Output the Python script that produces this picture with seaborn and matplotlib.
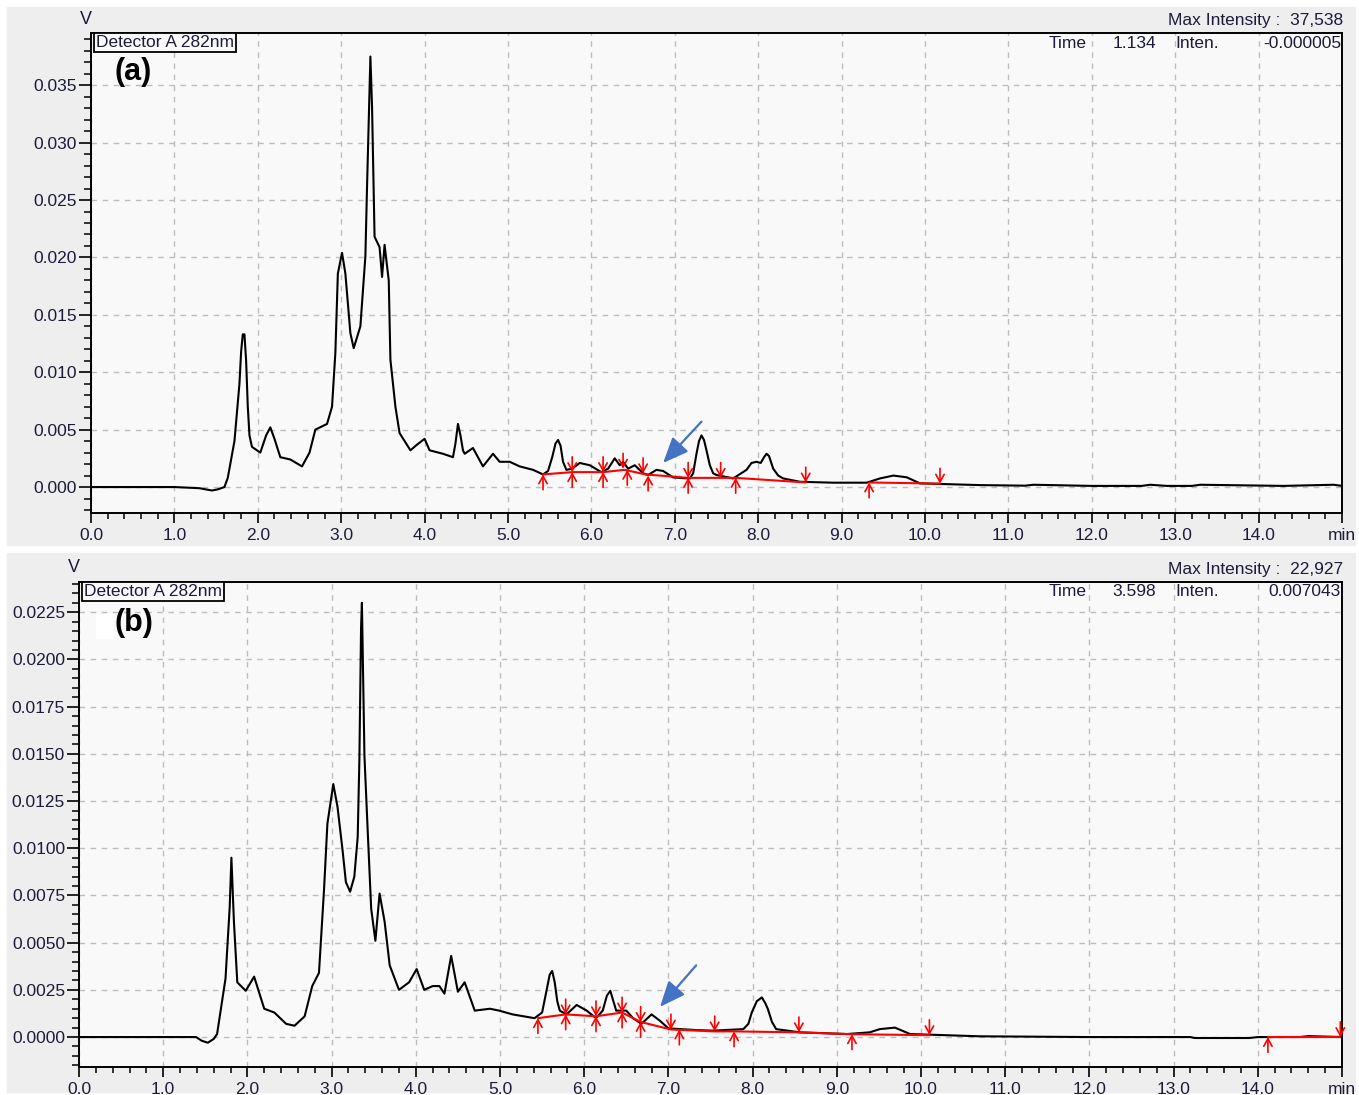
import numpy as np
import pandas as pd
import matplotlib
matplotlib.use("Agg")
import matplotlib.pyplot as plt
from matplotlib.patches import Rectangle
import seaborn as sns

# ---------------- data ----------------
time_a = [0.0, 0.5, 1.0, 1.3, 1.45, 1.52, 1.60, 1.64, 1.72, 1.78,
          1.80, 1.82, 1.84, 1.86, 1.88, 1.90, 1.93, 2.03, 2.10, 2.15,
          2.20, 2.27, 2.39, 2.53, 2.62, 2.69, 2.83, 2.89, 2.93, 2.96,
          3.01, 3.05, 3.11, 3.15, 3.23, 3.29, 3.31, 3.35, 3.37, 3.40,
          3.46, 3.49, 3.52, 3.57, 3.59, 3.65, 3.70, 3.83, 3.91, 4.00,
          4.06, 4.22, 4.34, 4.37, 4.40, 4.43, 4.46, 4.48, 4.58, 4.70,
          4.82, 4.90, 5.02, 5.14, 5.30, 5.42, 5.48, 5.53, 5.57, 5.60,
          5.63, 5.66, 5.70, 5.77, 5.86, 5.98, 6.12, 6.20, 6.28, 6.34,
          6.38, 6.44, 6.52, 6.62, 6.68, 6.78, 6.86, 6.98, 7.10, 7.18,
          7.22, 7.26, 7.29, 7.32, 7.35, 7.38, 7.42, 7.46, 7.50, 7.70,
          7.86, 7.92, 7.98, 8.03, 8.07, 8.10, 8.13, 8.18, 8.24, 8.30,
          8.50, 8.90, 9.30, 9.46, 9.62, 9.78, 9.94, 10.66, 11.2, 11.3,
          12.0, 12.6, 12.7, 12.9, 13.2, 13.3, 14.3, 14.9, 15.0]
signal_a = [0.0, 0.0, 0.0, -0.0001, -0.0003, -0.0002, 0.0, 0.0008, 0.004, 0.009,
            0.0118, 0.0133, 0.0133, 0.011, 0.007, 0.0045, 0.0035, 0.003, 0.0045, 0.0052,
            0.0042, 0.0026, 0.0024, 0.0018, 0.003, 0.005, 0.0055, 0.007, 0.0117, 0.0186,
            0.0204, 0.0186, 0.0134, 0.0121, 0.014, 0.0201, 0.0262, 0.0375, 0.0331, 0.0218,
            0.0209, 0.0183, 0.0211, 0.018, 0.0111, 0.007, 0.0047, 0.0032, 0.0037, 0.0042,
            0.0032, 0.0029, 0.0026, 0.0038, 0.0055, 0.0045, 0.0032, 0.0029, 0.0034, 0.0018,
            0.0029, 0.0022, 0.0022, 0.0018, 0.0015, 0.0011, 0.0014, 0.0026, 0.0038, 0.0041,
            0.0036, 0.0022, 0.0015, 0.0016, 0.0021, 0.0019, 0.0013, 0.0016, 0.0025, 0.0019,
            0.0022, 0.0016, 0.0019, 0.0012, 0.00105, 0.0015, 0.0014, 0.00084, 0.00078, 0.00075,
            0.0012, 0.0029, 0.004, 0.0045, 0.0041, 0.0032, 0.0019, 0.0012, 0.00105, 0.00075,
            0.0015, 0.0021, 0.0022, 0.0021, 0.0026, 0.0029, 0.0027, 0.0016, 0.001, 0.00075,
            0.00046, 0.00038, 0.00038, 0.00075, 0.001, 0.00085, 0.00032, 0.00017, 0.00012, 0.0002,
            0.0001, 0.0001, 0.0002, 0.0001, 0.0001, 0.0002, 0.0001, 0.0002, 0.0001]

time_b = [0.0, 0.5, 1.0, 1.39, 1.46, 1.53, 1.60, 1.64, 1.74, 1.79,
          1.81, 1.84, 1.88, 1.98, 2.08, 2.20, 2.32, 2.46, 2.56, 2.68,
          2.77, 2.85, 2.91, 2.95, 3.02, 3.07, 3.13, 3.17, 3.22, 3.27,
          3.31, 3.33, 3.35, 3.36, 3.39, 3.43, 3.47, 3.52, 3.57, 3.63,
          3.69, 3.80, 3.92, 4.01, 4.10, 4.20, 4.28, 4.34, 4.42, 4.50,
          4.58, 4.70, 4.88, 4.99, 5.15, 5.41, 5.50, 5.55, 5.59, 5.62,
          5.65, 5.68, 5.71, 5.79, 5.91, 6.03, 6.14, 6.22, 6.27, 6.31,
          6.34, 6.38, 6.50, 6.58, 6.68, 6.80, 6.90, 7.00, 7.33, 7.53,
          7.89, 7.95, 7.99, 8.05, 8.11, 8.15, 8.18, 8.23, 8.28, 8.56,
          9.12, 9.39, 9.51, 9.69, 9.87, 10.70, 12.0, 13.2, 13.25, 13.9,
          14.0, 14.5, 14.6, 15.0]
signal_b = [0.0, 0.0, 0.0, 0.0, -0.0002, -0.0003, -0.0001, 0.00016, 0.0031, 0.0069,
            0.0095, 0.0061, 0.0029, 0.00245, 0.0032, 0.0015, 0.0013, 0.0007, 0.0006, 0.0011,
            0.0027, 0.0034, 0.0078, 0.0113, 0.0134, 0.0122, 0.0099, 0.0082, 0.0077, 0.0085,
            0.0106, 0.0147, 0.0217, 0.023, 0.0149, 0.0108, 0.0068, 0.0051, 0.0076, 0.0061,
            0.0038, 0.0025, 0.0029, 0.0036, 0.0025, 0.0027, 0.0027, 0.0023, 0.0043, 0.0024,
            0.0029, 0.0014, 0.0015, 0.0014, 0.0012, 0.001, 0.0013, 0.0024, 0.0033, 0.0035,
            0.0029, 0.0019, 0.0014, 0.0012, 0.0017, 0.0014, 0.001, 0.0014, 0.0022, 0.00245,
            0.002, 0.0014, 0.0014, 0.001, 0.0007, 0.0012, 0.00086, 0.00046, 0.00037, 0.00034,
            0.00042, 0.0007, 0.0013, 0.0019, 0.0021, 0.0018, 0.0015, 0.0008, 0.00042, 0.00025,
            0.00016, 0.00025, 0.00042, 0.0005, 0.00016, 0.00004, 0.0, 0.0, -0.00005, -0.00005,
            0.0, 0.0, 0.00005, 0.0]

# peak markers: time, baseline level
a_up_t = [5.42, 5.77, 6.14, 6.43, 6.68, 7.16, 7.73, 9.33]
a_up_y = [0.0011, 0.0013, 0.0013, 0.0015, 0.0010, 0.0008, 0.0008, 0.0004]
a_dn_t = [5.77, 6.14, 6.38, 6.62, 7.16, 7.55, 8.57, 10.18]
a_dn_y = [0.0013, 0.0013, 0.0016, 0.0012, 0.0008, 0.0008, 0.0004, 0.0003]
a_base_t = [[5.42, 5.77, 6.14, 6.40, 6.65, 7.16, 7.55, 7.73, 8.57], [9.33, 10.18]]
a_base_y = [[0.0011, 0.0013, 0.0013, 0.0015, 0.0011, 0.0008, 0.0008, 0.0008, 0.0004], [0.0004, 0.0003]]

b_up_t = [5.45, 5.78, 6.14, 6.45, 6.67, 7.13, 7.78, 9.18, 14.12]
b_up_y = [0.0010, 0.0012, 0.0011, 0.0013, 0.0008, 0.0004, 0.0003, 0.00015, 0.0]
b_dn_t = [5.78, 6.14, 6.45, 6.67, 7.03, 7.55, 8.55, 10.10, 14.98]
b_dn_y = [0.0012, 0.0011, 0.0013, 0.0008, 0.0004, 0.0003, 0.00025, 0.0001, 0.0]
b_base_t = [[5.45, 5.78, 6.14, 6.45, 6.67, 7.03, 7.55, 7.78, 8.55, 9.18, 10.10], [14.12, 14.98]]
b_base_y = [[0.0010, 0.0012, 0.0011, 0.0013, 0.0008, 0.0004, 0.0003, 0.0003, 0.00025, 0.00015, 0.0001], [0.0, 0.0]]

x_ticks = [0.0, 1.0, 2.0, 3.0, 4.0, 5.0, 6.0, 7.0, 8.0, 9.0, 10.0, 11.0, 12.0, 13.0, 14.0, 15.0]
x_labels = ["0.0", "1.0", "2.0", "3.0", "4.0", "5.0", "6.0", "7.0", "8.0", "9.0", "10.0",
            "11.0", "12.0", "13.0", "14.0", "min"]
a_yticks = [0.000, 0.005, 0.010, 0.015, 0.020, 0.025, 0.030, 0.035]
a_ylabels = ["0.000", "0.005", "0.010", "0.015", "0.020", "0.025", "0.030", "0.035"]
b_yticks = [0.0, 0.0025, 0.005, 0.0075, 0.01, 0.0125, 0.015, 0.0175, 0.02, 0.0225]
b_ylabels = ["0.0000", "0.0025", "0.0050", "0.0075", "0.0100", "0.0125", "0.0150", "0.0175",
             "0.0200", "0.0225"]

panels = [
    dict(t=time_a, s=signal_a, upt=a_up_t, upy=a_up_y, dnt=a_dn_t, dny=a_dn_y, bt=a_base_t, by=a_base_y,
         yt=a_yticks, yl=a_ylabels, ylim=(-0.00226, 0.03955), ymin=0.001, tag="(a)", tagx=114,
         maxint="Max Intensity :  37,538", time="1.134", inten="-0.000005",
         arrow=((7.32, 0.0057), (6.86, 0.0021))),
    dict(t=time_b, s=signal_b, upt=b_up_t, upy=b_up_y, dnt=b_dn_t, dny=b_dn_y, bt=b_base_t, by=b_base_y,
         yt=b_yticks, yl=b_ylabels, ylim=(-0.00157, 0.02412), ymin=0.0005, tag="(b)", tagx=115,
         maxint="Max Intensity :  22,927", time="3.598", inten="0.007043",
         arrow=((7.33, 0.0038), (6.90, 0.0016))),
]

# ---------------- figure ----------------
sns.set_theme(style="white")
plt.rcParams['font.family'] = ['Liberation Sans', 'DejaVu Sans']
W, H = 1359, 1095
fig = plt.figure(figsize=(W / 100, H / 100), dpi=100, facecolor="white")

# gray panel backgrounds
for (y0, y1) in [(7, 545), (553, 1092)]:
    fig.patches.append(Rectangle((7 / W, 1 - y1 / H), (1355 - 7) / W, (y1 - y0) / H,
                                 transform=fig.transFigure, color="#eeeeee", zorder=-10))

ax_rects = [
    [91 / W, 1 - 513 / H, (1342 - 91) / W, (513 - 33) / H],
    [79 / W, 1 - 1066.7 / H, (1342 - 79) / W, (1066.7 - 581.7) / H],
]
label_col = "#1c1c3a"
arrow_style = "->,head_length=0.45,head_width=0.25"

for p, rect, vpos in zip(panels, ax_rects, [(86, 20), (74, 568)]):
    ax = fig.add_axes(rect)
    ax.set_facecolor("#f9f9f9")
    df = pd.DataFrame({"t": p["t"], "s": p["s"]})
    sns.lineplot(data=df, x="t", y="s", ax=ax, color="black", lw=1.5, zorder=3)

    # red baselines
    for bt, by in zip(p["bt"], p["by"]):
        ax.plot(bt, by, color="red", lw=1.5, zorder=4)
    # peak start/end arrows
    for x, y in zip(p["upt"], p["upy"]):
        ax.annotate("", xy=(x, y), xytext=(0, -11), textcoords="offset points",
                    xycoords="data",
                    arrowprops=dict(arrowstyle=arrow_style, color="red", lw=1.2,
                                    shrinkA=0, shrinkB=0), zorder=5)
    for x, y in zip(p["dnt"], p["dny"]):
        ax.annotate("", xy=(x, y), xytext=(0, 11), textcoords="offset points",
                    xycoords="data",
                    arrowprops=dict(arrowstyle=arrow_style, color="red", lw=1.2,
                                    shrinkA=0, shrinkB=0), zorder=5)
    # blue arrow
    (tx, ty), (hx, hy) = p["arrow"]
    ax.annotate("", xy=(hx, hy), xytext=(tx, ty),
                arrowprops=dict(arrowstyle="-|>,head_length=1.3,head_width=0.55",
                                color="#4472c4", lw=1.6, shrinkA=0, shrinkB=0), zorder=6)

    ax.set_xlim(0, 15)
    ax.set_ylim(*p["ylim"])
    ax.set_xticks(x_ticks)
    ax.set_xticklabels(x_labels)
    ax.set_yticks(p["yt"])
    ax.set_yticklabels(p["yl"])
    ax.set_xticks(np.arange(0, 15.01, 0.2), minor=True)
    ymn = np.ceil(p["ylim"][0] / p["ymin"]) * p["ymin"]
    ax.set_yticks(np.arange(ymn, p["ylim"][1], p["ymin"]), minor=True)
    ax.tick_params(axis="both", which="major", direction="out", color="black", labelcolor=label_col,
                   labelsize=12.5, width=1.2)
    ax.tick_params(axis="x", which="major", length=7, pad=4, bottom=True)
    ax.tick_params(axis="y", which="major", length=9, pad=1, left=True)
    ax.tick_params(axis="x", which="minor", length=4, width=1.1, bottom=True, color="black")
    ax.tick_params(axis="y", which="minor", length=5, width=1.1, left=True, color="black")
    ax.grid(True, which="major", color="#bdbdbd", ls=(0, (4, 4)), lw=1.0)
    for sp in ax.spines.values():
        sp.set_visible(True)
        sp.set_color("black")
        sp.set_linewidth(1.4)
    ax.set_xlabel("")
    ax.set_ylabel("")

    # header texts
    fig.text(vpos[0] / W, 1 - vpos[1] / H, "V", ha="center", va="center", fontsize=13, color=label_col)
    ax_top_px = H * (1 - (rect[1] + rect[3]))
    fig.text(1343 / W, 1 - (ax_top_px - 12) / H, p["maxint"], ha="right", va="center",
             fontsize=12.5, color=label_col)
    ax.text(0.004, 0.995, "Detector A 282nm", transform=ax.transAxes, ha="left", va="top",
            fontsize=12.5, color=label_col,
            bbox=dict(boxstyle="square,pad=0.12", facecolor="#f9f9f9", edgecolor="black", lw=1.3))
    yrow = 1 - (ax_top_px + 10) / H
    fig.text(1087 / W, yrow, "Time", ha="right", va="center", fontsize=12.5, color=label_col)
    fig.text(1156 / W, yrow, p["time"], ha="right", va="center", fontsize=12.5, color=label_col)
    fig.text(1175 / W, yrow, "Inten.", ha="left", va="center", fontsize=12.5, color=label_col)
    fig.text(1341 / W, yrow, p["inten"], ha="right", va="center", fontsize=12.5, color=label_col)
    if p["tag"] == "(b)":
        ax.add_patch(Rectangle((96 / W, 1 - 638 / H), 17 / W, 24 / H,
                               transform=fig.transFigure, color="white", zorder=2))
    ax.text((p["tagx"] - rect[0] * W) / (rect[2] * W), 0.918 if p["tag"] == "(a)" else 0.915,
            p["tag"], transform=ax.transAxes,
            ha="left", va="center", fontsize=22, fontweight="bold", color="black", zorder=7)

fig.savefig("out.png", dpi=100, facecolor="white")
